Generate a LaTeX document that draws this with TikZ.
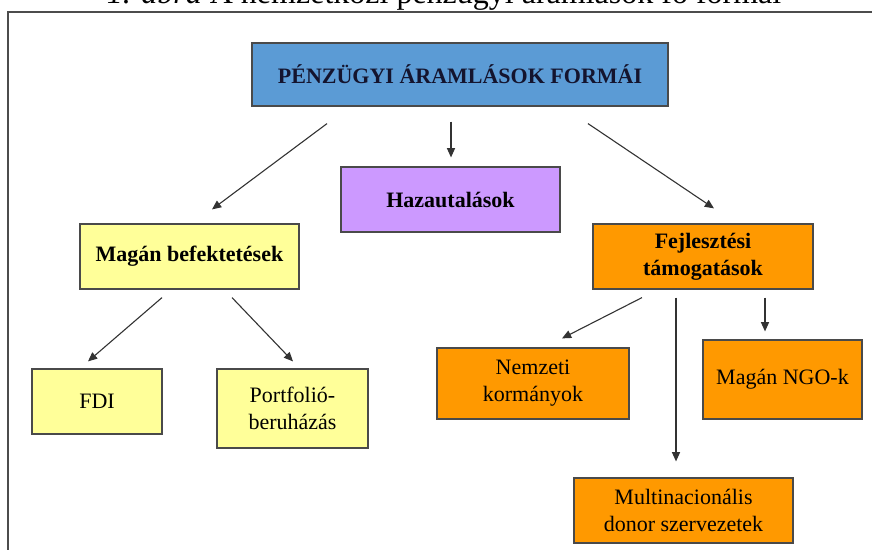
\documentclass[tikz,border=0pt]{standalone}
\usepackage{fontspec}
\setmainfont{Liberation Serif}
\usetikzlibrary{arrows.meta, calc}
\definecolor{titleblue}{HTML}{5B9BD5}
\definecolor{lilac}{HTML}{CC99FF}
\definecolor{paleyellow}{HTML}{FFFF99}
\definecolor{devorange}{HTML}{FF9900}
\definecolor{boxline}{HTML}{4A4A4A}
\definecolor{arrowgray}{HTML}{333333}
\definecolor{navytext}{HTML}{14142E}

\begin{document}
\begin{tikzpicture}[
    x=0.5pt, y=-0.5pt,
    box/.style={rectangle, draw=boxline, line width=0.6pt, inner sep=0pt,
                align=center, font=\fontsize{11}{13.5}\selectfont},
    boldbox/.style={box, font=\fontsize{11}{13.5}\selectfont\bfseries},
    arrow/.style={-{Triangle[length=4.6pt,width=4pt]}, line width=0.55pt, draw=arrowgray},
    frame/.style={line width=0.9pt, draw=black!70}
  ]
    \useasboundingbox (0,0) rectangle (872,550);
    \clip (0,0) rectangle (872,550);

    % caption and frame
    \node[font=\fontsize{16}{19}\selectfont, anchor=base] (caption) at (444,3.5)
      {\textit{1. ábra} A nemzetközi pénzügyi áramlások fő formái};
    \draw[frame] (8,560) -- (8,12) -- (880,12);

    % boxes
    \node[boldbox, fill=titleblue, text=navytext, minimum width=208pt, minimum height=31.5pt] (forms) at (460,74.5) {PÉNZÜGYI ÁRAMLÁSOK FORMÁI};
    \node[boldbox, fill=lilac, minimum width=109.5pt, minimum height=32.5pt] (remit) at (450.5,199.5) {Hazautalások};
    \node[boldbox, fill=paleyellow, minimum width=109.5pt, minimum height=32.5pt] (private) at (189.5,256.5) {Magán befektetések};
    \node[boldbox, fill=devorange, minimum width=110pt, minimum height=32.5pt] (aid) at (703,256.5) {Fejlesztési\\támogatások};
    \node[box, fill=paleyellow, minimum width=65pt, minimum height=32.5pt] (fdi) at (97,401.5) {FDI};
    \node[box, fill=paleyellow, minimum width=75.5pt, minimum height=39.5pt] (portfolio) at (292.5,408.5) {Portfolió-\\beruházás};
    \node[box, fill=devorange, minimum width=96pt, minimum height=35.5pt] (govt) at (533,383.5) {Nemzeti\\kormányok};
    \node[box, fill=devorange, minimum width=79.5pt, minimum height=39.5pt] (ngo) at (782.5,379.5) {Magán NGO-k};
    \node[box, fill=devorange, minimum width=109.5pt, minimum height=32.5pt] (donor) at (683.5,510.5) {Multinacionális\\donor szervezetek};

    % arrows
    \draw[arrow] ($(forms.south)+(-133,17)$) -- ($(private.north)+(22.5,-14)$);
    \draw[arrow] ($(forms.south)+(-9,15)$) -- ($(remit.north)+(0.5,-9)$);
    \draw[arrow] ($(forms.south)+(128,17)$) -- ($(aid.north)+(11,-15)$);
    \draw[arrow] ($(private.south)+(-27.5,8)$) -- ($(fdi.north)+(-9,-7)$);
    \draw[arrow] ($(private.south)+(42.5,8)$) -- ($(portfolio.north)+(0.5,-7)$);
    \draw[arrow] ($(aid.south)+(-61,8)$) -- ($(govt.north)+(29,-9)$);
    \draw[arrow] ($(aid.south)+(-27,8)$) -- ($(donor.north)+(-7.5,-16)$);
    \draw[arrow] ($(aid.south)+(62,8)$) -- ($(ngo.north)+(-17.5,-8)$);
  \end{tikzpicture}
\end{document}
